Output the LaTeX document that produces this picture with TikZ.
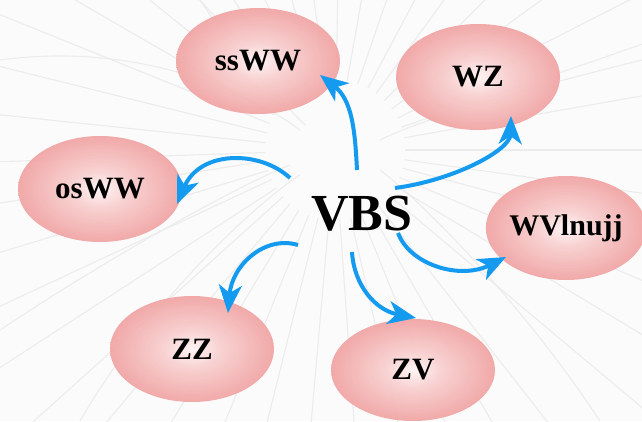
\documentclass[tikz,border=0pt]{standalone}
\usepackage{fontspec}
\setmainfont{Liberation Serif}
\usetikzlibrary{shapes.geometric,arrows.meta,calc}
\definecolor{arrowblue}{RGB}{20,155,240}
\definecolor{pinkedge}{RGB}{241,163,163}
\definecolor{pinkmid}{RGB}{248,206,206}
\definecolor{pinkcenter}{RGB}{255,244,244}
\definecolor{bgline}{RGB}{236,236,236}
\pgfdeclareradialshading{bubbleshade}{\pgfpoint{0bp}{0bp}}{color(0bp)=(pinkcenter); color(9bp)=(pinkmid); color(25bp)=(pinkedge); color(50bp)=(pinkedge)}
\begin{document}
\begin{tikzpicture}[x=1pt,y=-1pt,
  bubble/.style={ellipse, shading=bubbleshade, fill opacity=0.93, text opacity=1,
    minimum width=164pt, minimum height=106pt, inner sep=0pt,
    font=\fontsize{31}{31}\selectfont\bfseries},
  flow/.style={draw=arrowblue, line width=4pt, -{Stealth[length=28pt,width=23pt,inset=8pt]}},
  track/.style={draw=bgline, line width=1.1pt},
]
\fill[white!97!gray] (0,0) rectangle (642,421);
\useasboundingbox (0,0) rectangle (642,421);
% faint background tracks
\foreach \a/\r in {0/400,8/420,15/380,23/450,31/400,40/420,52/380,60/400,68/420,77/380,86/400,95/420,104/380,112/400,121/430,130/380,138/400,147/420,155/400,163/380,171/420,178/400,186/380,194/420,202/400,210/380,219/420,228/400,236/380,245/420,254/400,262/380,271/420,280/400,289/380,298/420,306/400,315/380,324/420,333/400,341/380,350/420}
  \draw[track] ($(335,150)+(\a:70)$) -- ++(\a:\r);
\draw[track] (0,60) .. controls (150,40) and (260,100) .. (300,130);
\draw[track] (0,330) .. controls (120,250) and (250,180) .. (290,165);
\draw[track] (642,60) .. controls (520,90) and (420,120) .. (380,140);
\draw[track] (80,421) .. controls (150,300) and (260,200) .. (300,175);
\draw[track] (600,421) .. controls (520,300) and (420,200) .. (380,170);
\draw[track] (200,0) .. controls (240,60) and (280,100) .. (305,125);

% nodes
\node[bubble] (ssww) at (258,61) {ssWW};
\node[bubble] (wz) at (478,77) {WZ};
\node[bubble] (osww) at (100,189) {osWW};
\node[bubble, minimum width=156pt, minimum height=104pt, font=\fontsize{30}{30}\selectfont\bfseries] (wv) at (566,228) {WVlnujj};
\node[bubble] (zz) at (192,349) {ZZ};
\node[bubble, minimum height=102pt] (zv) at (413,370) {ZV};
\node[font=\fontsize{52}{52}\selectfont\bfseries] (vbs) at (362,214) {VBS};

% arrow ends
\coordinate (s1) at (357,170); \coordinate (t1) at (320,75);
\coordinate (s2) at (395,188); \coordinate (t2) at (511,116);
\coordinate (s3) at (398,233); \coordinate (t3) at (506,257);
\coordinate (s4) at (352,252); \coordinate (t4) at (416,318);
\coordinate (s5) at (298,245); \coordinate (t5) at (228,313);
\coordinate (s6) at (290,178); \coordinate (t6) at (177,204);

\draw[flow] (s1) .. controls (355,130) and (352,100) .. (t1);
\draw[flow] (s2) .. controls (455,180) and (510,150) .. (t2);
\draw[flow] (s3) .. controls (410,265) and (460,280) .. (t3);
\draw[flow] (s4) .. controls (354,285) and (375,310) .. (t4);
\draw[flow] (s5) .. controls (265,235) and (232,265) .. (t5);
\draw[flow] (s6) .. controls (260,150) and (200,150) .. (t6);
\end{tikzpicture}
\end{document}
